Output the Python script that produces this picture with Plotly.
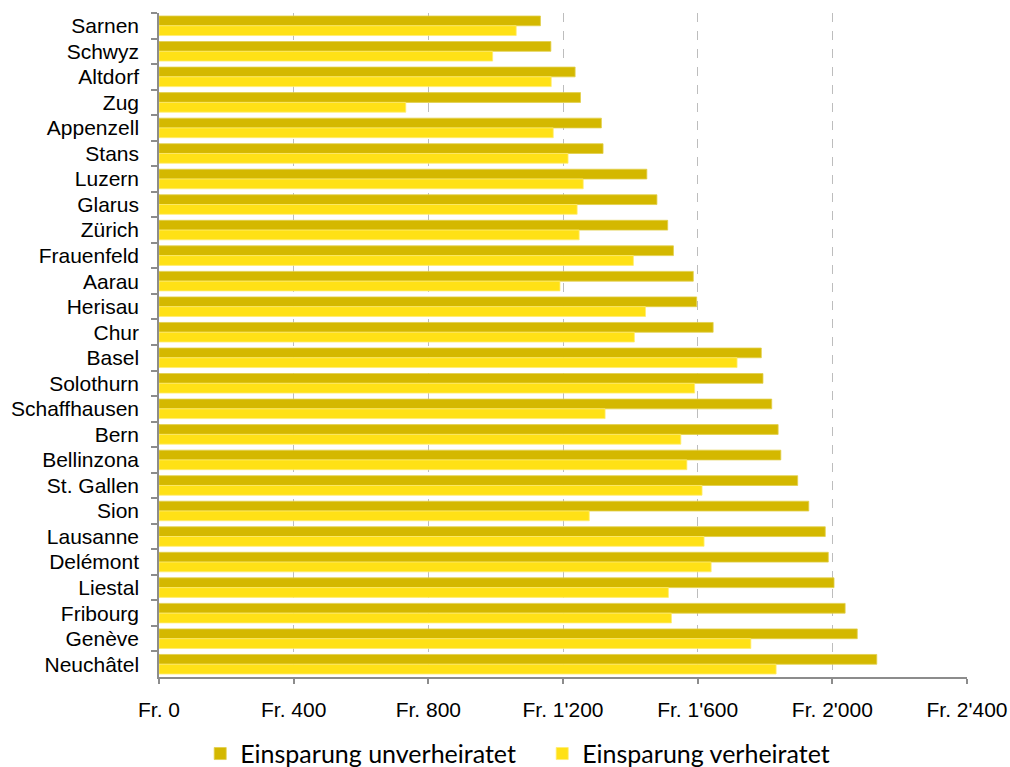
import plotly.graph_objects as go

# Cities (top to bottom) and yearly savings in Swiss francs
cities = [
    "Sarnen", "Schwyz", "Altdorf", "Zug", "Appenzell", "Stans", "Luzern",
    "Glarus", "Zürich", "Frauenfeld", "Aarau", "Herisau", "Chur", "Basel",
    "Solothurn", "Schaffhausen", "Bern", "Bellinzona", "St. Gallen", "Sion",
    "Lausanne", "Delémont", "Liestal", "Fribourg", "Genève", "Neuchâtel",
]
unverheiratet = [
    1133, 1164, 1236, 1252, 1314, 1319, 1449, 1479, 1511, 1528, 1587, 1597,
    1646, 1789, 1794, 1820, 1839, 1847, 1897, 1930, 1979, 1988, 2005, 2038,
    2074, 2132,
]
verheiratet = [
    1061, 991, 1165, 733, 1171, 1215, 1260, 1242, 1248, 1409, 1191, 1445,
    1412, 1717, 1591, 1325, 1550, 1568, 1613, 1278, 1619, 1640, 1513, 1522,
    1758, 1833,
]

series_names = ["Einsparung unverheiratet", "Einsparung verheiratet"]
x_tickvals = [0, 400, 800, 1200, 1600, 2000, 2400]
x_ticktext = ["Fr. 0", "Fr. 400", "Fr. 800", "Fr. 1'200", "Fr. 1'600",
              "Fr. 2'000", "Fr. 2'400"]

DARK = "#D4B800"
LIGHT = "#FFE116"
AXIS_GREY = "#8C8C8C"

fig = go.Figure()
fig.add_trace(go.Bar(
    y=cities, x=unverheiratet, orientation="h", name=series_names[0],
    marker=dict(color=DARK, line=dict(color="#E2CF4A", width=0.8)),
))
fig.add_trace(go.Bar(
    y=cities, x=verheiratet, orientation="h", name=series_names[1],
    marker=dict(color=LIGHT, line=dict(color="#FFEC70", width=0.8)),
))

fig.update_layout(
    width=1010, height=767,
    margin=dict(l=159, r=43, t=13, b=90, pad=0, autoexpand=False),
    paper_bgcolor="white", plot_bgcolor="white",
    barmode="group", bargap=0.235, bargroupgap=0,
    font=dict(family="Arial", size=21, color="#000000"),
    showlegend=True,
    legend=dict(
        orientation="h", x=0.051, xanchor="left", y=-0.081, yanchor="top",
        font=dict(family="Lato", size=25, color="#000000"),
        itemwidth=30, entrywidth=297, traceorder="normal",
        bgcolor="rgba(0,0,0,0)",
    ),
)

fig.update_xaxes(
    range=[0, 2400], tickvals=x_tickvals, ticktext=x_ticktext,
    showgrid=True, gridcolor="#BDBDBD", griddash="dash", gridwidth=1,
    zeroline=False, showline=True, linecolor=AXIS_GREY, linewidth=1.5,
    ticks="outside", ticklen=5, tickcolor=AXIS_GREY, tickwidth=1.5,
    ticklabelstandoff=8, fixedrange=True,
)
fig.update_yaxes(
    autorange="reversed", type="category", tickson="boundaries",
    showgrid=False, zeroline=False, showline=True, linecolor=AXIS_GREY,
    linewidth=1.5, ticks="outside", ticklen=6, tickcolor=AXIS_GREY, tickwidth=1.5,
    ticklabelstandoff=14, fixedrange=True,
)

fig.write_html("out.html")
